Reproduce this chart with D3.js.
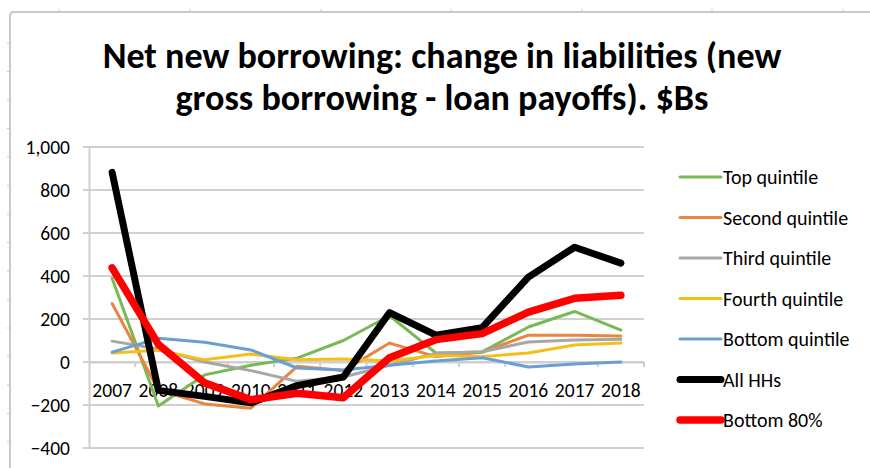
<!DOCTYPE html>
<html>
<head>
<meta charset="utf-8">
<script src="https://cdn.jsdelivr.net/npm/d3@7"></script>
<style>
  html, body { margin: 0; padding: 0; background: #fff; }
  svg { display: block; }
  text { font-family: Carlito, Lato, "Liberation Sans", sans-serif; fill: #000; }
</style>
</head>
<body>
<svg id="chart" width="870" height="468"></svg>
<script>
// Years on the category axis
const years = ["2007","2008","2009","2010","2011","2012","2013","2014","2015","2016","2017","2018"];

// Net new borrowing by group, $Bs
const topQuintile    = [390, -205, -60, -15, 18, 100, 215, 42, 47, 163, 235, 148];
const secondQuintile = [272, -130, -195, -215, -20, -40, 88, 25, 45, 125, 125, 121];
const thirdQuintile  = [97, 60, 0, -40, -90, -70, -15, 40, 48, 93, 102, 106];
const fourthQuintile = [42, 55, 10, 37, 10, 14, 5, 30, 25, 42, 79, 88];
const bottomQuintile = [46, 110, 92, 56, -28, -37, -15, 5, 20, -23, -9, 0];
const allHHs         = [882, -132, -160, -190, -110, -70, 230, 125, 160, 395, 534, 460];
const bottom80       = [438, 82, -97, -176, -145, -166, 20, 104, 132, 232, 296, 310];

// Value axis ticks
const yTicks = [-400, -200, 0, 200, 400, 600, 800, 1000];

const seriesNames = ["Top quintile","Second quintile","Third quintile","Fourth quintile","Bottom quintile","All HHs","Bottom 80%"];
const seriesValues = [topQuintile, secondQuintile, thirdQuintile, fourthQuintile, bottomQuintile, allHHs, bottom80];
const seriesColors = ["#78b955", "#e9853f", "#a7a7a7", "#f4bf18", "#6b9fd3", "#000000", "#ff0000"];
const seriesWidths = [3, 3, 3, 3, 3, 7, 7.5];

const labelFont = "19.5px";
const svg = d3.select("#chart");

// Sheet cell border behind the chart
const frame = svg.append("g").attr("stroke", "#c9c9c9").attr("fill", "none");
frame.append("path").attr("d", "M10,468 L10,16 Q10,12 14,12 L870,12").attr("stroke-width", 2);
[59, 190, 321, 451, 582, 712, 843].forEach(x =>
  frame.append("line").attr("x1", x).attr("x2", x).attr("y1", 9).attr("y2", 12).attr("stroke-width", 1));
d3.range(43, 468, 28.5).forEach(y =>
  frame.append("line").attr("x1", 7).attr("x2", 10).attr("y1", y).attr("y2", y).attr("stroke-width", 1));

// Title
const title = svg.append("text")
  .attr("x", 442).attr("text-anchor", "middle")
  .style("font-weight", "bold");
title.append("tspan").attr("x", 442).attr("y", 68).text("Net new borrowing: change in liabilities (new");
title.append("tspan").attr("x", 442).attr("y", 110).text("gross borrowing - loan payoffs). $Bs");
// size the title so its first line spans the heading width
let fs = 34;
title.style("font-size", fs + "px");
const w1 = title.select("tspan").node().getComputedTextLength();
fs = fs * 679 / w1;
title.style("font-size", fs.toFixed(2) + "px");

// Scales
const x = d3.scaleBand().domain(years).range([89, 644]);
const y = d3.scaleLinear().domain([-400, 1000]).range([448, 147]);

// Gridlines
svg.append("g").selectAll("line").data(yTicks).join("line")
  .attr("x1", 83).attr("x2", 644)
  .attr("y1", d => y(d)).attr("y2", d => y(d))
  .attr("stroke", "#d0d0d0").attr("stroke-width", 2);

// Value axis
const yAxis = svg.append("g").attr("transform", "translate(89,0)")
  .call(d3.axisLeft(y).tickValues(yTicks).tickSize(0).tickPadding(19).tickFormat(d3.format(",")));
yAxis.select(".domain").attr("stroke", "#cfcfcf").attr("stroke-width", 2);
yAxis.selectAll("text").style("font-size", labelFont).style("font-family", "Carlito, Lato, 'Liberation Sans', sans-serif");

// Category axis at zero
const xAxis = svg.append("g").attr("transform", `translate(0,${y(0)})`)
  .call(d3.axisBottom(x).tickSize(0).tickPadding(21));
xAxis.select(".domain").attr("stroke", "#cfcfcf").attr("stroke-width", 2);
xAxis.selectAll("text").style("font-size", labelFont).style("font-family", "Carlito, Lato, 'Liberation Sans', sans-serif");
xAxis.append("g").selectAll("line").data(years.slice(1).concat(["end"])).join("line")
  .attr("x1", (d, i) => 89 + x.step() * (i + 1)).attr("x2", (d, i) => 89 + x.step() * (i + 1))
  .attr("y1", 0).attr("y2", 5).attr("stroke", "#cfcfcf").attr("stroke-width", 2);

// Lines
const line = d3.line()
  .x((d, i) => x(years[i]) + x.bandwidth() / 2)
  .y(d => y(d));

svg.append("g").selectAll("path").data(seriesValues).join("path")
  .attr("d", d => line(d))
  .attr("fill", "none")
  .attr("stroke", (d, i) => seriesColors[i])
  .attr("stroke-width", (d, i) => seriesWidths[i])
  .attr("stroke-linejoin", "round")
  .attr("stroke-linecap", "round");

// Legend
const legend = svg.append("g");
seriesNames.forEach((name, i) => {
  const ly = 177 + i * 40.5;
  legend.append("line")
    .attr("x1", 680).attr("x2", 721).attr("y1", ly).attr("y2", ly)
    .attr("stroke", seriesColors[i]).attr("stroke-width", seriesWidths[i])
    .attr("stroke-linecap", "round");
  legend.append("text")
    .attr("x", 723).attr("y", ly).attr("dy", "0.35em")
    .style("font-size", "20px")
    .text(name);
});
</script>
</body>
</html>
